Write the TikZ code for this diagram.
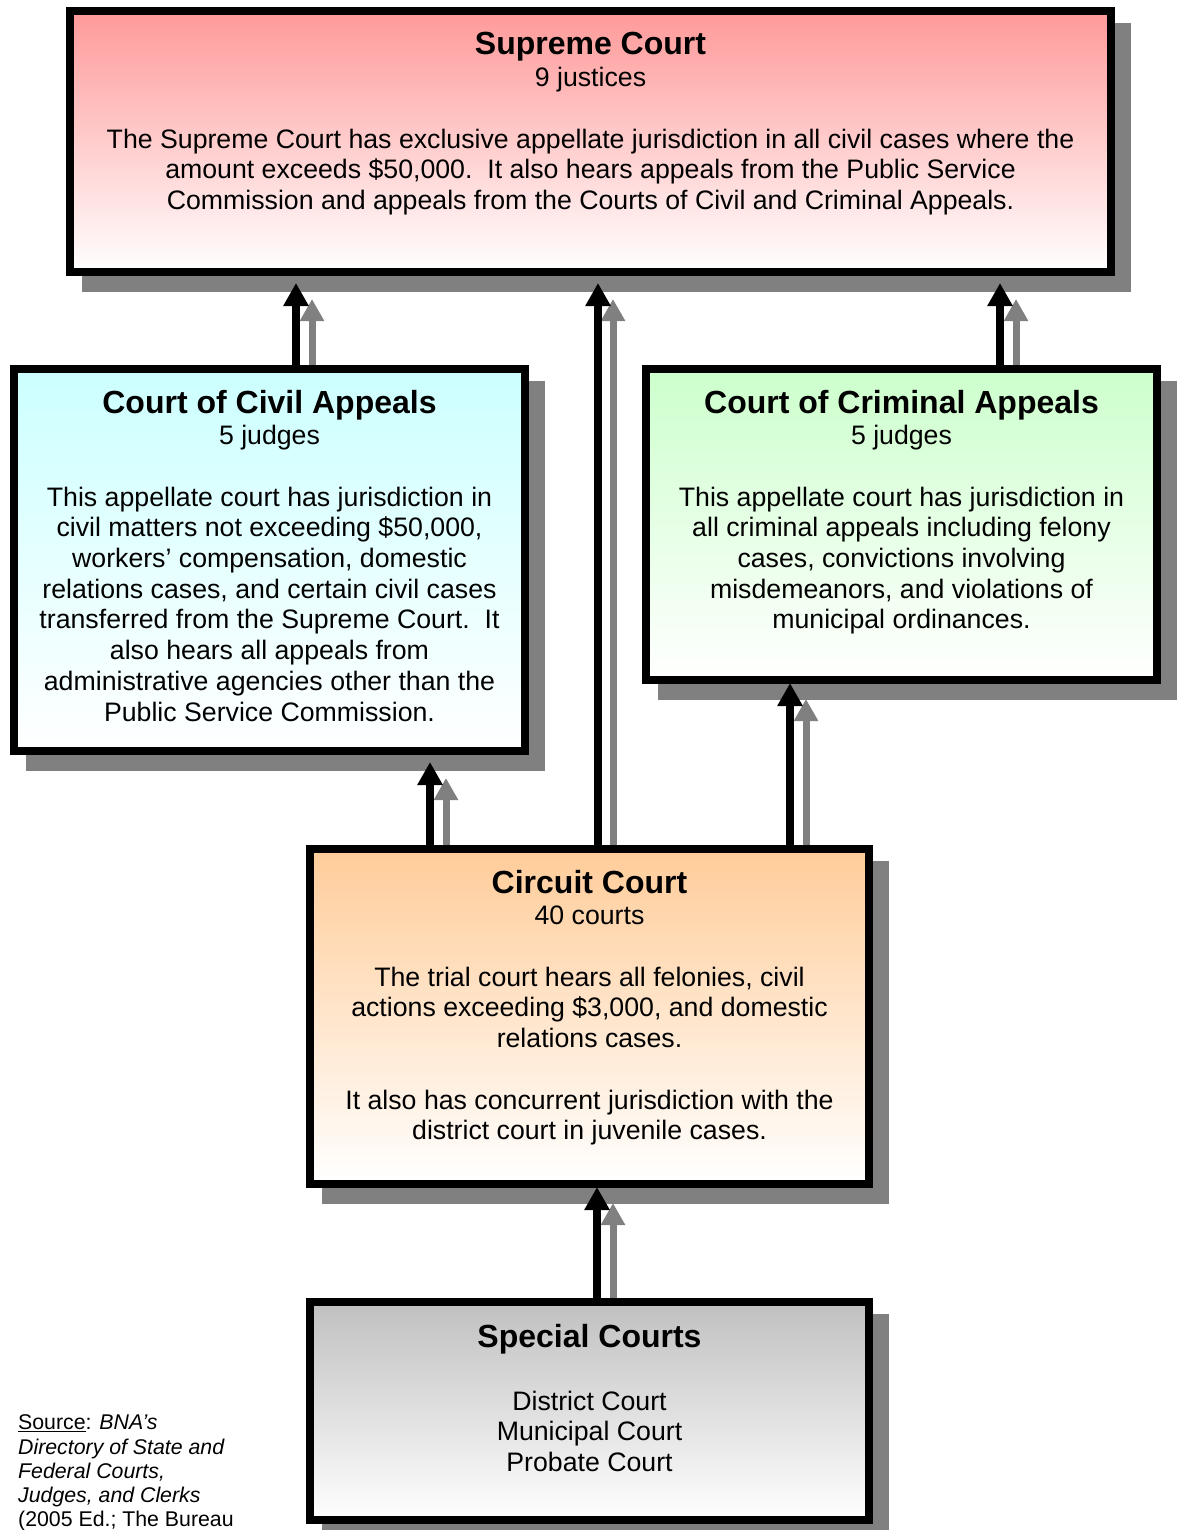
\documentclass[tikz,border=0pt]{standalone}
\usepackage{fontspec}
\setmainfont{Liberation Sans}
\usetikzlibrary{arrows.meta}
\definecolor{supc}{HTML}{FF9999}
\definecolor{civc}{HTML}{CCFFFF}
\definecolor{crimc}{HTML}{CCFFCC}
\definecolor{circc}{HTML}{FFCC99}
\definecolor{specc}{HTML}{C0C0C0}
\definecolor{shad}{HTML}{808080}
\pgfdeclarelayer{bg}
\pgfsetlayers{bg,main}
\begin{document}
\begin{tikzpicture}[x=1pt,y=-1pt,
  court/.style={draw=black, line width=8pt, rectangle, inner sep=0pt},
  ttl/.style={font=\fontsize{32}{36.8}\selectfont\bfseries, inner sep=0pt, anchor=base},
  sub/.style={font=\fontsize{26.7}{30.7}\selectfont, inner sep=0pt, anchor=base},
  body/.style={font=\fontsize{26.7}{30.7}\selectfont, align=center, inner sep=0pt, anchor=north},
  blackarrow/.style={draw=black, line width=8pt, -{Triangle[width=24pt,length=23pt]}},
  grayarrow/.style={draw=shad, line width=7pt, -{Triangle[width=23pt,length=22pt]}},
  shadowbox/.style={fill=shad}
]
\useasboundingbox (0,0) rectangle (1178,1530);
\clip (0,0) rectangle (1178,1530);

% boxes
\node[court, top color=supc, bottom color=white, minimum width=1041pt, minimum height=261pt] (supreme) at (590.5,141.5) {};
\node[court, top color=civc, bottom color=white, minimum width=511pt, minimum height=382pt] (civil) at (269.5,560) {};
\node[court, top color=crimc, bottom color=white, minimum width=511pt, minimum height=311pt] (criminal) at (901.5,524.5) {};
\node[court, top color=circc, bottom color=white, minimum width=559pt, minimum height=335pt] (circuit) at (589.5,1016.5) {};
\node[court, top color=specc, bottom color=white, minimum width=559pt, minimum height=218pt] (special) at (589.5,1411) {};

% shadows
\begin{pgfonlayer}{bg}
\foreach \b in {supreme,civil,criminal,circuit,special}{
  \fill[shadowbox] ([shift={(16pt,-16pt)}]\b.north west) rectangle ([shift={(16pt,-16pt)}]\b.south east);
}
\end{pgfonlayer}

% arrow columns
\coordinate (ca) at (296,0);   \coordinate (cag) at (312,0);
\coordinate (ma) at (598,0);   \coordinate (mag) at (613,0);
\coordinate (ka) at (1000,0);  \coordinate (kag) at (1016,0);
\coordinate (la) at (430,0);   \coordinate (lag) at (446,0);
\coordinate (ra) at (790,0);   \coordinate (rag) at (806,0);
\coordinate (sa) at (597,0);   \coordinate (sag) at (613,0);

% arrows
\draw[grayarrow] (civil.north -| cag) -- ([yshift=-23pt]supreme.south -| cag);
\draw[blackarrow] (civil.north -| ca) -- ([yshift=-7pt]supreme.south -| ca);
\draw[grayarrow] (circuit.north -| mag) -- ([yshift=-23pt]supreme.south -| mag);
\draw[blackarrow] (circuit.north -| ma) -- ([yshift=-7pt]supreme.south -| ma);
\draw[grayarrow] (criminal.north -| kag) -- ([yshift=-23pt]supreme.south -| kag);
\draw[blackarrow] (criminal.north -| ka) -- ([yshift=-7pt]supreme.south -| ka);
\draw[grayarrow] (circuit.north -| lag) -- ([yshift=-23pt]civil.south -| lag);
\draw[blackarrow] (circuit.north -| la) -- ([yshift=-7pt]civil.south -| la);
\draw[grayarrow] (circuit.north -| rag) -- ([yshift=-15pt]criminal.south -| rag);
\draw[blackarrow] (circuit.north -| ra) -- ([yshift=1pt]criminal.south -| ra);
\draw[grayarrow] (special.north -| sag) -- ([yshift=-15pt]circuit.south -| sag);
\draw[blackarrow] (special.north -| sa) -- ([yshift=1pt]circuit.south -| sa);

% texts: supreme
\node[ttl] (supT) at (590.5,55) {Supreme Court};
\node[sub] (supS) at (590.5,87) {9 justices};
\node[body] (supB) at (590.5,126.5) {\strut The Supreme Court has exclusive appellate jurisdiction in all civil cases where the\\
amount exceeds \$50,000.\ \ It also hears appeals from the Public Service\\
Commission and appeals from the Courts of Civil and Criminal Appeals.};

% civil
\node[ttl] (civT) at (269.5,413) {Court of Civil Appeals};
\node[sub] (civS) at (269.5,444) {5 judges};
\node[body] (civB) at (269.5,484.5) {\strut This appellate court has jurisdiction in\\
civil matters not exceeding \$50,000,\\
workers’ compensation, domestic\\
relations cases, and certain civil cases\\
transferred from the Supreme Court.\ \ It\\
also hears all appeals from\\
administrative agencies other than the\\
Public Service Commission.};

% criminal
\node[ttl] (crimT) at (901.5,413) {Court of Criminal Appeals};
\node[sub] (crimS) at (901.5,444) {5 judges};
\node[body] (crimB) at (901.5,484.5) {\strut This appellate court has jurisdiction in\\
all criminal appeals including felony\\
cases, convictions involving\\
misdemeanors, and violations of\\
municipal ordinances.};

% circuit
\node[ttl] (circT) at (589.5,893) {Circuit Court};
\node[sub] (circS) at (589.5,924) {40 courts};
\node[body] (circB) at (589.5,964.5) {\strut The trial court hears all felonies, civil\\
actions exceeding \$3,000, and domestic\\
relations cases.};
\node[body] (circC) at (589.5,1087.5) {\strut It also has concurrent jurisdiction with the\\
district court in juvenile cases.};

% special
\node[ttl] (specT) at (589.5,1347) {Special Courts};
\node[body] (specB) at (589.5,1388.5) {\strut District Court\\
Municipal Court\\
Probate Court};

% source
\node[font=\fontsize{21.3}{24.3}\selectfont, align=left, inner sep=0pt, anchor=north west] (src) at (18,1412.5) {\strut\underline{Source}: \textit{BNA’s}\\
\textit{Directory of State and}\\
\textit{Federal Courts,}\\
\textit{Judges, and Clerks}\\
(2005 Ed.; The Bureau};
\end{tikzpicture}
\end{document}
